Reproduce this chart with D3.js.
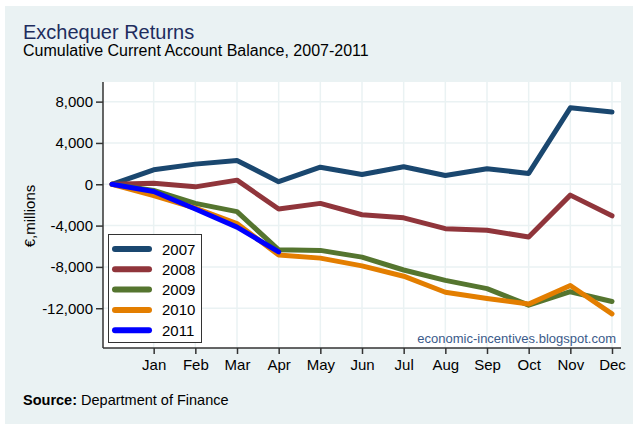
<!DOCTYPE html>
<html>
<head>
<meta charset="utf-8">
<script src="https://cdn.jsdelivr.net/npm/d3@7"></script>
<style>
  html, body { margin: 0; padding: 0; background: #ffffff; }
  svg { display: block; font-family: "Liberation Sans", Arial, sans-serif; }
</style>
</head>
<body>
<svg id="chart" width="640" height="430"></svg>
<script>
// ---- data ----
const months = ["Jan","Feb","Mar","Apr","May","Jun","Jul","Aug","Sep","Oct","Nov","Dec"];
const yTicks = [8000, 4000, 0, -4000, -8000, -12000];
const years = ["2007","2008","2009","2010","2011"];
const s2007 = [0, 1400, 1950, 2300, 250, 1650, 950, 1700, 850, 1500, 1050, 7400, 7000];
const s2008 = [0, 100, -250, 400, -2400, -1850, -2950, -3250, -4300, -4450, -5100, -1050, -3050];
const s2009 = [0, -600, -1850, -2650, -6350, -6400, -7050, -8300, -9300, -10100, -11700, -10400, -11350];
const s2010 = [0, -1100, -2300, -3800, -6850, -7150, -7900, -8900, -10450, -11050, -11600, -9800, -12550];
const s2011 = [0, -700, -2400, -4150, -6550];
const colors = ["#1a476f", "#90353b", "#55752f", "#e37e00", "#0000ff"];

const seriesList = [s2007, s2008, s2009, s2010, s2011].map((v, i) => ({name: years[i], values: v, color: colors[i]}));

const svg = d3.select("#chart");

// background
svg.append("rect").attr("x", 5).attr("y", 6).attr("width", 628).attr("height", 418).attr("fill", "#eaf2f3");

const L = 103, R = 621, T = 82, B = 348;
svg.append("rect").attr("x", L).attr("y", T).attr("width", R - L).attr("height", B - T).attr("fill", "#ffffff");

const x = d3.scaleLinear().domain([-0.216, 12.216]).range([L, R]);
const y = d3.scaleLinear().domain([-15850, 9900]).range([B, T]);

// grid
const grid = svg.append("g");
grid.selectAll("line.h").data(yTicks).enter().append("line")
  .attr("x1", L).attr("x2", R).attr("y1", d => y(d)).attr("y2", d => y(d))
  .attr("stroke", "#eaf2f3").attr("stroke-width", 1.5);
grid.selectAll("line.v").data(d3.range(1, 13)).enter().append("line")
  .attr("y1", T).attr("y2", B).attr("x1", d => x(d)).attr("x2", d => x(d))
  .attr("stroke", "#eaf2f3").attr("stroke-width", 1.5);

// axes
const fmt = d3.format(",");
const yAxis = svg.append("g").attr("transform", `translate(${L},0)`)
  .call(d3.axisLeft(y).tickValues(yTicks).tickFormat(d => fmt(d).replace("\u2212", "-")).tickSize(7).tickPadding(3).tickSizeOuter(0));
const xAxis = svg.append("g").attr("transform", `translate(0,${B})`)
  .call(d3.axisBottom(x).tickValues(d3.range(1, 13)).tickFormat(d => months[d - 1]).tickSize(6).tickPadding(5).tickSizeOuter(0));
[yAxis, xAxis].forEach(a => {
  a.select(".domain").attr("stroke", "#333333").attr("stroke-width", 1.5);
  a.selectAll(".tick line").attr("stroke", "#333333").attr("stroke-width", 1.5);
  a.selectAll(".tick text").attr("font-size", 15).attr("fill", "#000000").attr("font-family", "Liberation Sans, Arial, sans-serif");
});
yAxis.select(".domain").attr("d", `M0,${T}V${B}`);
xAxis.select(".domain").attr("d", `M${L},0H${R}`);

// lines
const line = d3.line().x((d, i) => x(i)).y(d => y(d));
svg.append("g").selectAll("path").data(seriesList).enter().append("path")
  .attr("d", d => line(d.values))
  .attr("fill", "none").attr("stroke", d => d.color).attr("stroke-width", 5)
  .attr("stroke-linejoin", "round").attr("stroke-linecap", "round");

// watermark
svg.append("text").attr("x", 616).attr("y", 343).attr("text-anchor", "end")
  .attr("font-size", 13).attr("fill", "#3a5a8a").text("economic-incentives.blogspot.com");

// legend
const lg = svg.append("g");
lg.append("rect").attr("x", 108.5).attr("y", 234.5).attr("width", 93).attr("height", 108)
  .attr("fill", "#ffffff").attr("stroke", "#333333").attr("stroke-width", 1);
seriesList.forEach((s, i) => {
  const yy = 249 + i * 20.3;
  lg.append("line").attr("x1", 115).attr("x2", 149).attr("y1", yy).attr("y2", yy)
    .attr("stroke", s.color).attr("stroke-width", 6).attr("stroke-linecap", "round");
  lg.append("text").attr("x", 162).attr("y", yy + 5.5).attr("font-size", 15).attr("fill", "#000").text(s.name);
});

// titles
svg.append("text").attr("x", 23).attr("y", 38.5).attr("font-size", 20).attr("fill", "#1e2d5e").text("Exchequer Returns");
svg.append("text").attr("x", 23).attr("y", 56).attr("font-size", 16).attr("fill", "#000").text("Cumulative Current Account Balance, 2007-2011");

// y label
svg.append("text").attr("transform", "translate(35,216) rotate(-90)").attr("text-anchor", "middle")
  .attr("font-size", 15).attr("fill", "#000").text("€,millions");

// source
const src = svg.append("text").attr("x", 23).attr("y", 405).attr("font-size", 14.5).attr("fill", "#000");
src.append("tspan").attr("font-weight", "bold").text("Source:");
src.append("tspan").text(" Department of Finance");
</script>
</body>
</html>
